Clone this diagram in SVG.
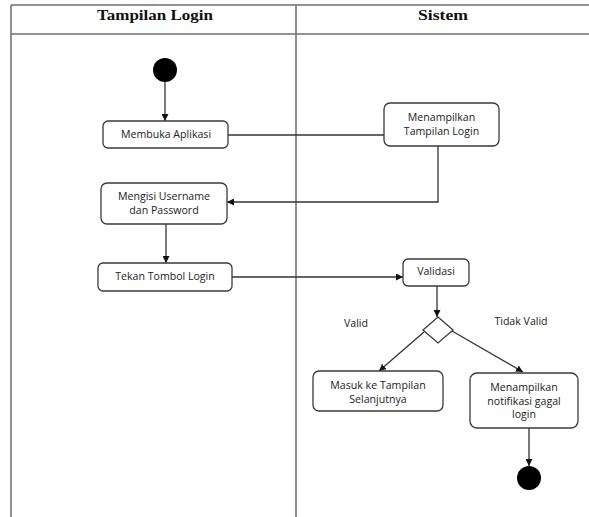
<svg xmlns="http://www.w3.org/2000/svg" width="589" height="517" viewBox="0 0 589 517">
<style>
.lane{stroke:#6e6e6e;stroke-width:1.5;fill:none}
.hdr{font-family:"Liberation Serif",serif;font-weight:bold;font-size:15.5px;fill:#111;text-anchor:middle}
.box{fill:#fff;stroke:#3a3a3a;stroke-width:1.3}
.lbl{font-family:"Open Sans","Liberation Sans",sans-serif;font-size:10.6px;fill:#222;text-anchor:middle}
.con{stroke:#333;stroke-width:1.3;fill:none}
</style>
<defs>
<marker id="arr" viewBox="0 0 10 10" refX="10" refY="5" markerWidth="7" markerHeight="7" markerUnits="userSpaceOnUse" orient="auto">
<path d="M0,0 L10,5 L0,10 z" fill="#111"/>
</marker>
</defs>
<rect width="589" height="517" fill="#fff"/>
<g id="lanes">
<line class="lane" x1="11" y1="5" x2="589" y2="5"/>
<line class="lane" x1="11" y1="34" x2="589" y2="34"/>
<line class="lane" x1="11" y1="5" x2="11" y2="517"/>
<line class="lane" x1="296" y1="5" x2="296" y2="517"/>
<text class="hdr" x="155" y="19.5" textLength="116" lengthAdjust="spacingAndGlyphs">Tampilan Login</text>
<text class="hdr" x="443" y="19.5" textLength="50" lengthAdjust="spacingAndGlyphs">Sistem</text>
</g>
<g id="connectors">
<line class="con" x1="165" y1="82" x2="165" y2="121" marker-end="url(#arr)"/>
<line class="con" x1="228" y1="135" x2="384" y2="135"/>
<polyline class="con" points="438,146 438,202 227,202" marker-end="url(#arr)"/>
<line class="con" x1="166" y1="224" x2="166" y2="263" marker-end="url(#arr)"/>
<line class="con" x1="232" y1="277" x2="403" y2="277" marker-end="url(#arr)"/>
<line class="con" x1="437" y1="286" x2="437" y2="317" marker-end="url(#arr)"/>
<line class="con" x1="424" y1="332" x2="379" y2="371" marker-end="url(#arr)"/>
<line class="con" x1="452" y1="331" x2="523" y2="372" marker-end="url(#arr)"/>
<line class="con" x1="529" y1="428" x2="529" y2="466" marker-end="url(#arr)"/>
</g>
<g id="start"><circle cx="165" cy="70" r="12" fill="#000"/></g>
<g id="membuka">
<rect class="box" x="103" y="121" width="125" height="27" rx="5"/>
<text class="lbl" x="166" y="138">Membuka Aplikasi</text>
</g>
<g id="menampilkan-login">
<rect class="box" x="384" y="103" width="115" height="43" rx="6"/>
<text class="lbl" x="441.5" y="121">Menampilkan</text>
<text class="lbl" x="441.5" y="134.5">Tampilan Login</text>
</g>
<g id="mengisi">
<rect class="box" x="101" y="183" width="126" height="41" rx="6"/>
<text class="lbl" x="164" y="200">Mengisi Username</text>
<text class="lbl" x="164" y="213.5">dan Password</text>
</g>
<g id="tekan">
<rect class="box" x="98" y="263" width="134" height="28" rx="5"/>
<text class="lbl" x="165" y="280">Tekan Tombol Login</text>
</g>
<g id="validasi">
<rect class="box" x="403" y="259" width="66" height="27" rx="5"/>
<text class="lbl" x="436" y="275">Validasi</text>
</g>
<g id="decision">
<polygon class="box" points="438,317 453,330 438,343 423,330"/>
<text class="lbl" x="356" y="327">Valid</text>
<text class="lbl" x="521" y="325">Tidak Valid</text>
</g>
<g id="masuk">
<rect class="box" x="313" y="371" width="130" height="40" rx="6"/>
<text class="lbl" x="378" y="388.5">Masuk ke Tampilan</text>
<text class="lbl" x="378" y="402.5">Selanjutnya</text>
</g>
<g id="notifikasi">
<rect class="box" x="470" y="373" width="108" height="55" rx="7"/>
<text class="lbl" x="524" y="390.5">Menampilkan</text>
<text class="lbl" x="524" y="404.5">notifikasi gagal</text>
<text class="lbl" x="524" y="418">login</text>
</g>
<g id="end"><circle cx="529" cy="478" r="12" fill="#000"/></g>
</svg>
